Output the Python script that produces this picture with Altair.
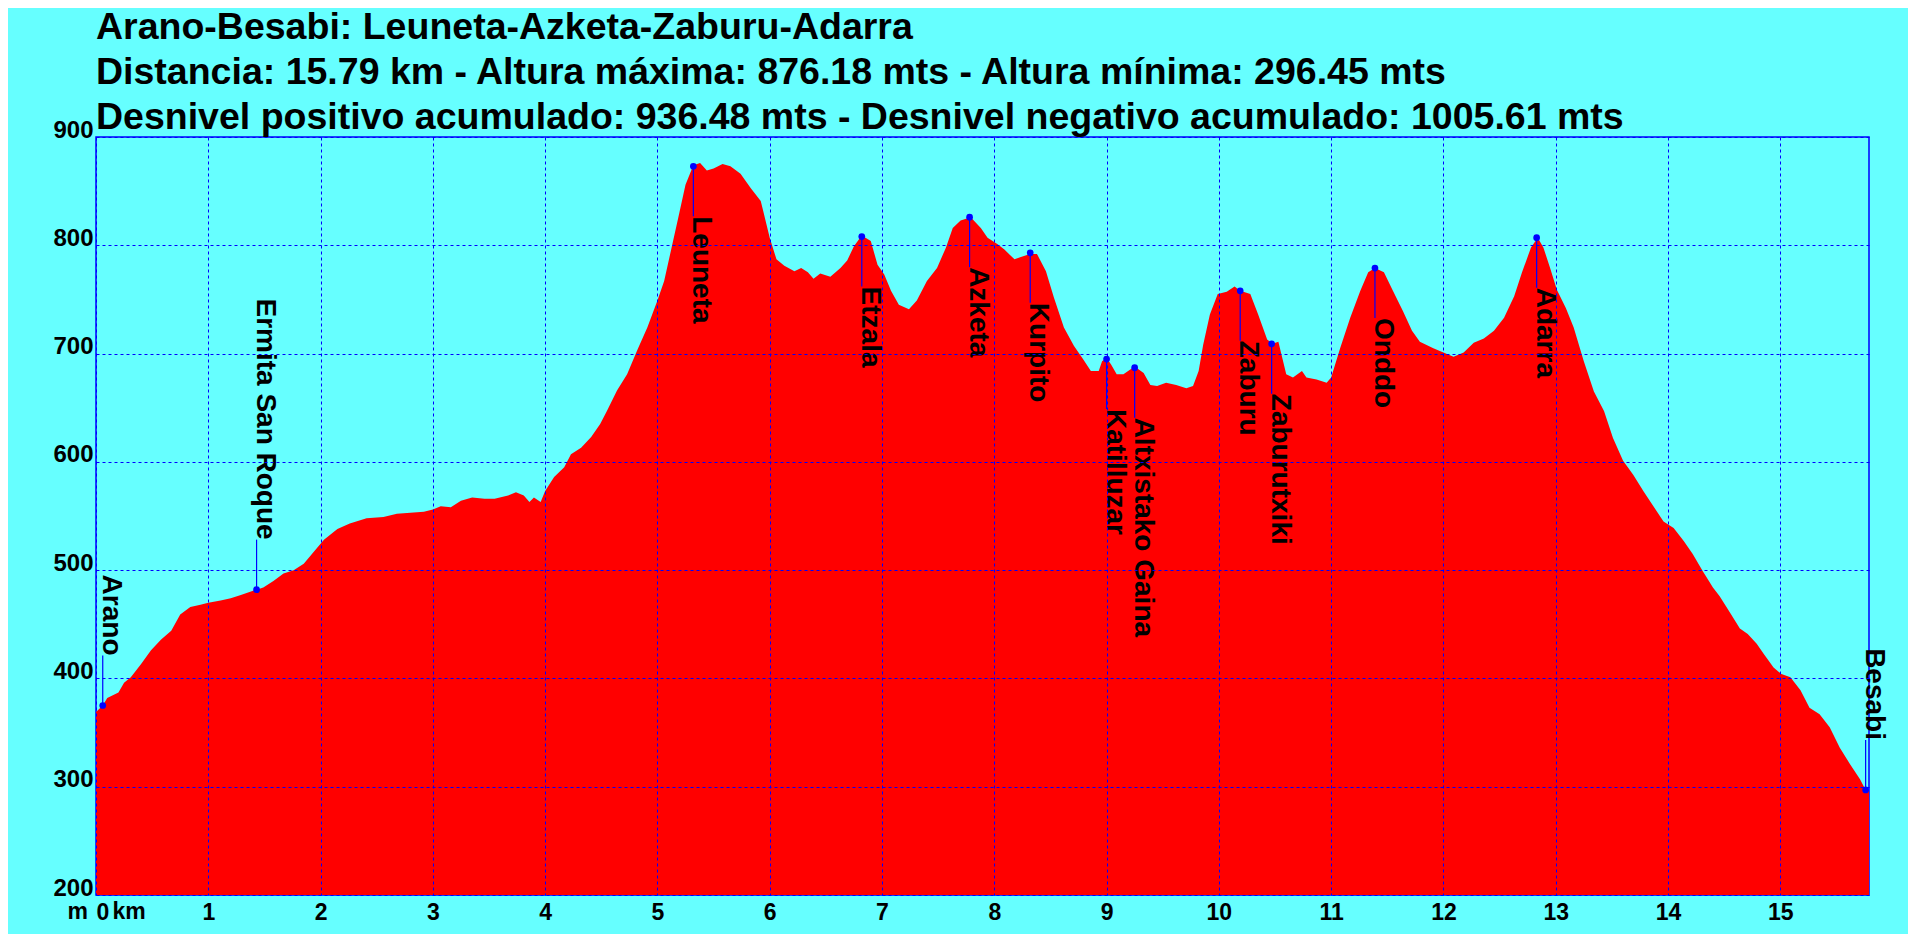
import altair as alt
import pandas as pd

# ---------------- data ----------------
km = [0.00, 0.06, 0.10, 0.20, 0.25, 0.31, 0.40, 0.49, 0.58, 0.67, 0.75, 0.84, 0.93,
      1.00, 1.11, 1.20, 1.29, 1.43, 1.49, 1.58, 1.67, 1.76, 1.85, 1.94, 2.03, 2.15,
      2.26, 2.41, 2.56, 2.68, 2.80, 2.92, 3.00, 3.07, 3.16, 3.25, 3.35, 3.46, 3.55,
      3.67, 3.74, 3.81, 3.86, 3.90, 3.96, 4.00, 4.08, 4.17, 4.23, 4.32, 4.41, 4.49,
      4.55, 4.64, 4.73, 4.82, 4.91, 5.00, 5.06, 5.12, 5.18, 5.25, 5.32, 5.38, 5.44,
      5.50, 5.58, 5.65, 5.74, 5.83, 5.92, 6.00, 6.06, 6.13, 6.22, 6.28, 6.34, 6.39,
      6.45, 6.54, 6.63, 6.69, 6.75, 6.82, 6.90, 6.96, 7.02, 7.08, 7.15, 7.24, 7.31,
      7.40, 7.49, 7.57, 7.63, 7.70, 7.79, 7.88, 7.94, 8.03, 8.09, 8.18, 8.23, 8.32,
      8.38, 8.46, 8.53, 8.62, 8.71, 8.79, 8.86, 8.93, 8.96, 9.00, 9.04, 9.09, 9.15,
      9.25, 9.33, 9.39, 9.45, 9.53, 9.62, 9.71, 9.77, 9.82, 9.86, 9.92, 9.99, 10.07,
      10.14, 10.19, 10.28, 10.35, 10.43, 10.48, 10.53, 10.60, 10.66, 10.74, 10.78,
      10.87, 10.96, 11.00, 11.08, 11.17, 11.26, 11.33, 11.39, 11.47, 11.55, 11.64,
      11.72, 11.79, 11.91, 12.00, 12.09, 12.18, 12.27, 12.36, 12.45, 12.54, 12.63,
      12.70, 12.78, 12.84, 12.89, 12.95, 13.01, 13.09, 13.16, 13.25, 13.34, 13.43,
      13.51, 13.60, 13.69, 13.78, 13.87, 13.96, 14.05, 14.14, 14.22, 14.31, 14.40,
      14.46, 14.55, 14.64, 14.71, 14.79, 14.85, 14.94, 15.01, 15.09, 15.18, 15.26,
      15.35, 15.44, 15.53, 15.62, 15.71, 15.76, 15.79]
elev = [369, 375, 382, 387, 396, 401, 413, 426, 436, 444, 459, 466, 468,
        470, 472, 474, 477, 482, 484, 490, 497, 500, 506, 517, 528, 538,
        543, 548, 549, 552, 553, 554, 556, 559, 558, 564, 567, 566, 566,
        569, 572, 569, 563, 567, 563, 573, 586, 595, 607, 613, 623, 635,
        647, 666, 681, 703, 724, 749, 767, 795, 823, 856, 874, 876, 869,
        871, 875, 873, 866, 853, 841, 807, 787, 781, 776, 779, 775, 769,
        774, 771, 779, 786, 799, 809, 804, 782, 773, 758, 745, 741, 749,
        767, 779, 798, 816, 823, 826, 816, 807, 801, 796, 787, 789, 792,
        792, 776, 752, 724, 707, 695, 684, 684, 693, 696, 690, 681, 681,
        688, 682, 671, 670, 673, 671, 668, 670, 684, 708, 736, 755, 757,
        762, 758, 755, 736, 713, 709, 711, 681, 678, 684, 678,
        676, 673, 678, 705, 733, 758, 775, 779, 775, 758, 739,
        721, 711, 705, 701, 697, 701, 710, 714, 721, 733, 753,
        775, 798, 807, 798, 779, 759, 742, 724, 693, 665, 647,
        622, 601, 588, 573, 559, 545, 539, 527, 515, 499, 484,
        476, 461, 446, 441, 432, 423, 410, 404, 401, 389, 373,
        367, 355, 336, 321, 307, 297, 296]

wp_name = ["Arano", "Ermita San Roque", "Leuneta", "Etzala", "Azketa", "Kurpito",
           "Katilluzar", "Altxistako Gaina", "Zaburu", "Zaburutxiki", "Onddo",
           "Adarra", "Besabi"]
wp_km = [0.06, 1.43, 5.32, 6.82, 7.78, 8.32, 9.00, 9.25, 10.19, 10.47, 11.39, 12.83, 15.76]
wp_elev = [375, 482, 873, 808, 826, 793, 695, 687, 758, 709, 779, 807, 297]

title_lines = [
    "Arano-Besabi: Leuneta-Azketa-Zaburu-Adarra",
    "Distancia: 15.79 km - Altura máxima: 876.18 mts - Altura mínima: 296.45 mts",
    "Desnivel positivo acumulado: 936.48 mts - Desnivel negativo acumulado: 1005.61 mts",
]
x_ticks = list(range(0, 16))
y_ticks = list(range(200, 1000, 100))
above_names = ["Arano", "Ermita San Roque", "Besabi"]

# ---------------- chart ----------------
FONT = "Liberation Sans"
BLUE = "#0000FF"
RED = "#FF0000"
BG = "#66FFFF"

profile = pd.DataFrame({"km": km, "elev": elev})
wps = pd.DataFrame({"name": wp_name, "km": wp_km, "elev": wp_elev})

xscale = alt.Scale(domain=[0, 15.79], nice=False, zero=False)
yscale = alt.Scale(domain=[200, 900], nice=False, zero=False)

xaxis = alt.Axis(values=x_ticks, format="d", grid=True, gridColor=BLUE, gridDash=[3, 3],
                 gridWidth=1, ticks=False, domain=False, labelFont=FONT, labelFontSize=23,
                 labelFontWeight="bold", labelColor="black", labelPadding=6,
                 labelFlush=True, labelOverlap=False, zindex=1,
                 title="km", titleFont=FONT, titleFontSize=23, titleFontWeight="bold",
                 titleColor="black", titleX=16, titleY=23, titleAlign="left",
                 titleBaseline="alphabetic")
yaxis = alt.Axis(values=y_ticks, format="d", grid=True, gridColor=BLUE, gridDash=[3, 3],
                 gridWidth=1, ticks=False, domain=False, labelFont=FONT, labelFontSize=24,
                 labelFontWeight="bold", labelColor="black", labelPadding=3,
                 labelBaseline="alphabetic", labelOverlap=False, zindex=1,
                 title="m", titleFont=FONT, titleFontSize=23, titleFontWeight="bold",
                 titleColor="black", titleAngle=0, titleX=-29, titleY=781,
                 titleAlign="left", titleBaseline="alphabetic")

X = alt.X("km:Q", scale=xscale, axis=xaxis)
Y = alt.Y("elev:Q", scale=yscale, axis=yaxis)

area = alt.Chart(profile).mark_area(color=RED, opacity=1, clip=True).encode(
    x=X, y=Y, y2=alt.datum(200)
)

names_js = str(above_names).replace("'", '"')
is_above = "indexof(%s, datum.name) >= 0" % names_js
is_below = "indexof(%s, datum.name) < 0" % names_js

base_wp = alt.Chart(wps)

rule_below = base_wp.transform_filter(is_below).mark_rule(
    color=BLUE, strokeWidth=1.2, y2Offset=50
).encode(x="km:Q", y="elev:Q", y2="elev:Q")
rule_above = base_wp.transform_filter(is_above).mark_rule(
    color=BLUE, strokeWidth=1.2, y2Offset=-50
).encode(x="km:Q", y="elev:Q", y2="elev:Q")

text_below = base_wp.transform_filter(is_below).mark_text(
    angle=90, align="left", baseline="alphabetic", dx=50, font=FONT,
    fontSize=28, fontWeight="bold", color="black"
).encode(x="km:Q", y="elev:Q", text="name:N")
text_above = base_wp.transform_filter(is_above).mark_text(
    angle=90, align="right", baseline="alphabetic", dx=-50, font=FONT,
    fontSize=28, fontWeight="bold", color="black"
).encode(x="km:Q", y="elev:Q", text="name:N")

dots = base_wp.mark_circle(color=BLUE, size=45, opacity=1).encode(x="km:Q", y="elev:Q")

chart = alt.layer(area, rule_below, rule_above, text_below, text_above, dots).properties(
    width=1773,
    height=758,
    padding={"left": 88, "top": 129, "right": 39, "bottom": 39},
    autosize=alt.AutoSizeParams(type="none"),
    background=BG,
    title=alt.TitleParams(text=title_lines, anchor="start", frame="group", font=FONT,
                          fontSize=37.5, fontWeight="bold", color="black", lineHeight=45,
                          offset=0, dy=18),
).configure_view(stroke=BLUE, strokeWidth=1.5)

chart.save("out.html", embed_options={"renderer": "svg", "actions": False})
